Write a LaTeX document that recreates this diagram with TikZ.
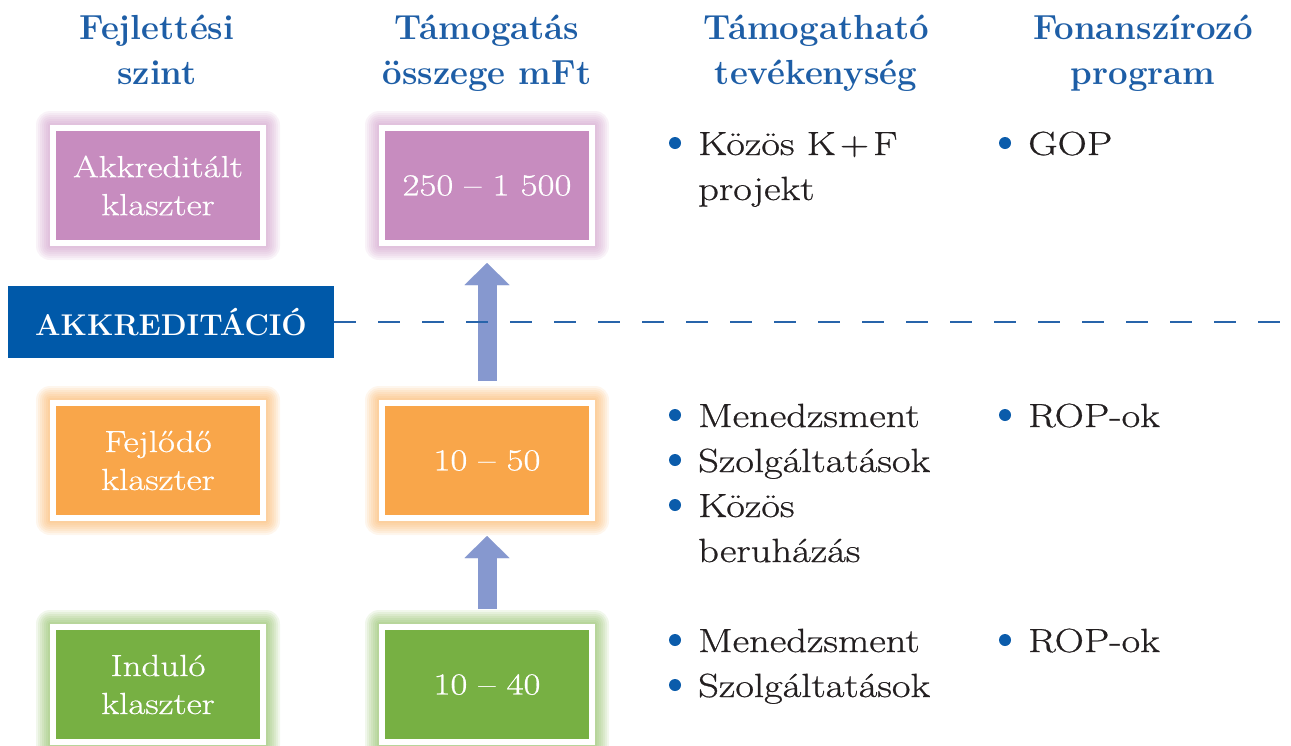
\documentclass[tikz,border=0pt]{standalone}
\usepackage{fontspec}
\setmainfont{Latin Modern Roman}
\newfontfamily\bodyfont{Latin Modern Roman}[FakeStretch=1.21,FakeBold=0.7]
\usetikzlibrary{arrows.meta,backgrounds}
\definecolor{hdrblue}{RGB}{30,94,166}
\definecolor{bannerblue}{RGB}{0,89,169}
\definecolor{bulletc}{RGB}{11,92,171}
\definecolor{purp}{RGB}{199,140,191}
\definecolor{orng}{RGB}{249,166,74}
\definecolor{grn}{RGB}{119,176,67}
\definecolor{arrowc}{RGB}{134,152,207}
\definecolor{textc}{RGB}{35,31,32}
\definecolor{dashc}{RGB}{40,100,170}
\begin{document}
\begin{tikzpicture}[x=1pt,y=-1pt,
  box/.style={draw=white,line width=6pt,minimum width=210pt,minimum height=115pt,
    inner sep=0pt,outer sep=3pt,text=white,align=center,
    font=\bodyfont\fontsize{30.5}{38}\selectfont},
  hdr/.style={anchor=base,text=hdrblue,inner sep=0pt,
    font=\bfseries\fontsize{34.8}{40}\selectfont},
  item/.style={anchor=base west,text=textc,inner sep=0pt,
    font=\bodyfont\fontsize{33.5}{40}\selectfont},
  dot/.style={circle,fill=bulletc,minimum size=12pt,inner sep=0pt},
  uparrow/.style={draw=arrowc,line width=19pt,
    -{Triangle[width=45pt,length=22pt,line width=0.01pt]}},
]
\useasboundingbox (0,0) rectangle (1291,745);

% headers
\node[hdr] (h1a) at (157,39) {Fejlettési};
\node[hdr] (h1b) at (157,84) {szint};
\node[hdr] (h2a) at (487,39) {Támogatás};
\node[hdr] (h2b) at (487,84) {összege mFt};
\node[hdr] (h3a) at (816,39) {Támogatható};
\node[hdr] (h3b) at (816,84) {tevékenység};
\node[hdr] (h4a) at (1143,39) {Fonanszírozó};
\node[hdr] (h4b) at (1143,84) {program};

% boxes
\node[box,fill=purp] (akk) at (158,185.5) {Akkreditált\\klaszter};
\node[box,fill=purp] (akkm) at (487,185.5) {250 – 1~500};
\node[box,fill=orng] (fej) at (158,460.5) {Fejlődő\\klaszter};
\node[box,fill=orng] (fejm) at (487,460.5) {10 – 50};
\node[box,fill=grn] (ind) at (158,684.5) {Induló\\klaszter};
\node[box,fill=grn] (indm) at (487,684.5) {10 – 40};

% glow
\begin{pgfonlayer}{background}
\foreach \n/\c in {akk/purp,akkm/purp,fej/orng,fejm/orng,ind/grn,indm/grn}{
  \foreach \d in {2,4,6,8,10,12,14}{
    \fill[\c,opacity=0.1,rounded corners=\d pt]
      ([xshift=-\d pt,yshift=-\d pt]\n.south west) rectangle
      ([xshift=\d pt,yshift=\d pt]\n.north east);
  }
}
\end{pgfonlayer}

% arrows
\draw[uparrow,shorten <=19pt,shorten >=17pt] (fejm.north) -- (akkm.south);
\draw[uparrow,shorten <=15pt,shorten >=15pt] (indm.north) -- (fejm.south);

% banner
\node[fill=bannerblue,text=white,minimum width=326pt,minimum height=72pt,inner sep=0pt,
  font=\bfseries\fontsize{30}{34}\selectfont] (ban) at (171,322) {AKKREDITÁCIÓ};
\coordinate (dashend) at (1291,322);
\draw[dashc,line width=2.5pt,dash pattern=on 22pt off 22pt] (ban.east) -- (dashend);

% activities
\node[dot] (b1) at (675,143) {};
\node[item] (t1a) at (698,155) {Közös K\hspace{0.12em}+\hspace{0.12em}F};
\node[item] (t1b) at (698,200) {projekt};
\node[dot] (b2) at (675,415) {};
\node[item] (t2a) at (698,427) {Menedzsment};
\node[dot] (b3) at (675,460) {};
\node[item] (t2b) at (698,472) {Szolgáltatások};
\node[dot] (b4) at (675,505) {};
\node[item] (t2c) at (698,517) {Közös};
\node[item] (t2d) at (698,562) {beruházás};
\node[dot] (b5) at (675,640) {};
\node[item] (t3a) at (698,652) {Menedzsment};
\node[dot] (b6) at (675,685) {};
\node[item] (t3b) at (698,697) {Szolgáltatások};

% programs
\node[dot] (p1) at (1005,143) {};
\node[item] (q1) at (1028,155) {GOP};
\node[dot] (p2) at (1005,415) {};
\node[item] (q2) at (1028,427) {ROP-ok};
\node[dot] (p3) at (1005,640) {};
\node[item] (q3) at (1028,652) {ROP-ok};
\end{tikzpicture}
\end{document}
